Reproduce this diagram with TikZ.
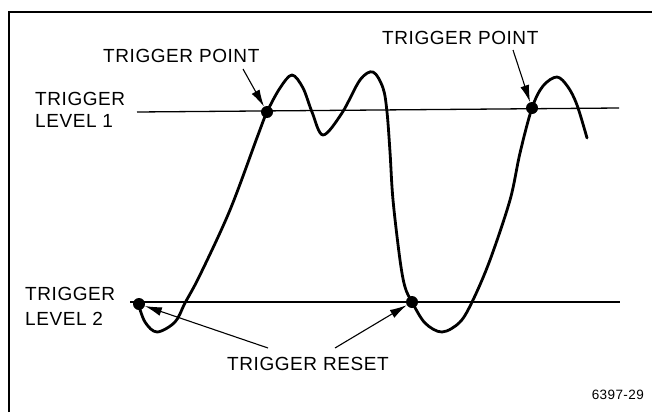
\documentclass[tikz,border=0pt]{standalone}
\usepackage{fontspec}
\setmainfont{Liberation Sans}[LetterSpace=3]
\usetikzlibrary{arrows.meta}
\begin{document}
\begin{tikzpicture}[x=1pt,y=-1pt,
  lbl/.style={inner sep=0pt,font=\fontsize{19}{22}\selectfont},
  wave/.style={line width=2.8pt,line cap=round,line join=round},
  level/.style={line width=1.3pt},
  ptr/.style={line width=1.1pt,-{Latex[length=17pt,width=9pt]},shorten >=0pt},
  dot/.style={circle,fill=black,inner sep=0pt,minimum size=12pt}]
\useasboundingbox (0,0) rectangle (652,412);
% frame
\draw[line width=2.4pt] (9,412) -- (9,12) -- (652,12);
% trigger levels
\coordinate (l1a) at (137,112); \coordinate (l1b) at (619,108);
\coordinate (l2a) at (130,302); \coordinate (l2b) at (620,302);
\draw[level] (l1a) -- (l1b);
\draw[level] (l2a) -- (l2b);
% waveform
\draw[wave] plot[smooth,tension=0.55] coordinates {
(138,303) (145,322) (157,332) (175,322) (185,303) (200,275) (230,210)
(258,135) (267,112) (280,88) (292,75) (303,88) (312,112) (323,135)
(342,113) (360,80) (373,72) (383,88) (387,112) (390,152) (393,200)
(400,260) (405,287) (412,302) (425,323) (442,332) (460,322) (473,300)
(490,260) (510,200) (520,153) (532,108) (543,86) (557,77) (568,87)
(577,105) (587,138)};
% dots
\node[dot] (d1) at (267,112) {};
\node[dot] (d2) at (532,108) {};
\node[dot] (d3) at (139,304) {};
\node[dot] (d4) at (412,302) {};
% labels
\node[lbl,anchor=base west] (tp1) at (103,63) {TRIGGER POINT};
\node[lbl,anchor=base west] (tp2) at (382,45) {TRIGGER POINT};
\node[lbl,anchor=north west,align=left,font=\fontsize{19}{22}\selectfont] (lev1) at (35,92) {TRIGGER\\LEVEL 1};
\node[lbl,anchor=north west,align=left,font=\fontsize{19}{25}\selectfont] (lev2) at (25,287) {TRIGGER\\LEVEL 2};
\node[lbl,anchor=base west] (reset) at (227,370) {TRIGGER RESET};
\node[inner sep=0pt,anchor=base east,font=\fontsize{13.5}{16}\selectfont] (fig) at (644,399) {6397-29};
% pointers
\coordinate (a1) at (243,69);
\coordinate (a2) at (513,50);
\coordinate (a3) at (268,348);
\coordinate (a4) at (335,348);
\draw[ptr] (a1) -- (d1);
\draw[ptr] (a2) -- (d2);
\draw[ptr] (a3) -- (d3);
\draw[ptr] (a4) -- (d4);
\end{tikzpicture}
\end{document}
